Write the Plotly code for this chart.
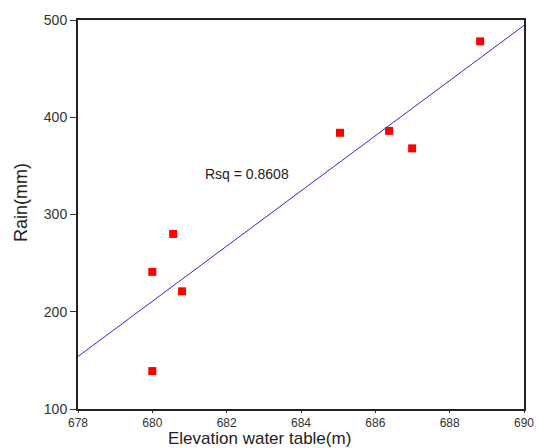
import numpy as np
import plotly.graph_objects as go

elevation = [680.0, 680.0, 680.56, 680.8, 685.05, 686.37, 686.99, 688.82]
rain = [139, 241, 280, 221, 384, 386, 368, 478]
x_ticks = [678, 680, 682, 684, 686, 688, 690]
y_ticks = [100, 200, 300, 400, 500]
rsq_label = "Rsq = 0.8608"
x_title = "Elevation water table(m)"
y_title = "Rain(mm)"

slope, intercept = np.polyfit(elevation, rain, 1)
fit_x = [678, 690]
fit_y = [slope * v + intercept for v in fit_x]

W, H = 542, 448
L, R, T, B = 78, 18, 20, 39
pw, ph = W - L - R, H - T - B

def px_to_paper(px, py):
    return (px - L) / pw, (H - B - py) / ph

fig = go.Figure()
fig.add_trace(go.Scatter(x=fit_x, y=fit_y, mode="lines",
                         line=dict(color="#2a2ad0", width=1), showlegend=False))
fig.add_trace(go.Scatter(x=elevation, y=rain, mode="markers",
                         marker=dict(symbol="square", size=8, color="#ff0000"),
                         showlegend=False))

xt_x, xt_y = px_to_paper(259, 438)
yt_x, yt_y = px_to_paper(21, 202)
rq_x, rq_y = px_to_paper(247, 174)

fig.update_layout(
    width=W, height=H,
    margin=dict(l=L, r=R, t=T, b=B, autoexpand=False),
    paper_bgcolor="white", plot_bgcolor="white",
    font=dict(family="Arial, Liberation Sans", size=13, color="#333"),
    annotations=[
        dict(x=rq_x, y=rq_y, xref="paper", yref="paper", text=rsq_label, showarrow=False,
             xanchor="center", yanchor="middle",
             font=dict(family="Arial, Liberation Sans", size=14, color="#222")),
        dict(x=xt_x, y=xt_y, xref="paper", yref="paper", text=x_title, showarrow=False,
             xanchor="center", yanchor="middle",
             font=dict(family="Arial, Liberation Sans", size=17, color="#222")),
        dict(x=yt_x, y=yt_y, xref="paper", yref="paper", text=y_title, showarrow=False,
             textangle=-90, xanchor="center", yanchor="middle",
             font=dict(family="Arial, Liberation Sans", size=18, color="#222")),
    ],
)
fig.update_xaxes(range=[678, 690], tickvals=x_ticks, ticks="outside", ticklen=2,
                 tickcolor="#333", showgrid=False, zeroline=False, automargin=False,
                 showline=True, linecolor="#222", linewidth=2, mirror=True,
                 tickfont=dict(family="Arial, Liberation Sans", size=12, color="#333"))
fig.update_yaxes(range=[100, 500], tickvals=y_ticks, ticks="outside", ticklen=6,
                 tickcolor="#333", showgrid=False, zeroline=False, automargin=False,
                 showline=True, linecolor="#222", linewidth=2, mirror=True,
                 tickfont=dict(family="Arial, Liberation Sans", size=14, color="#333"))

fig.write_html("out.html")
